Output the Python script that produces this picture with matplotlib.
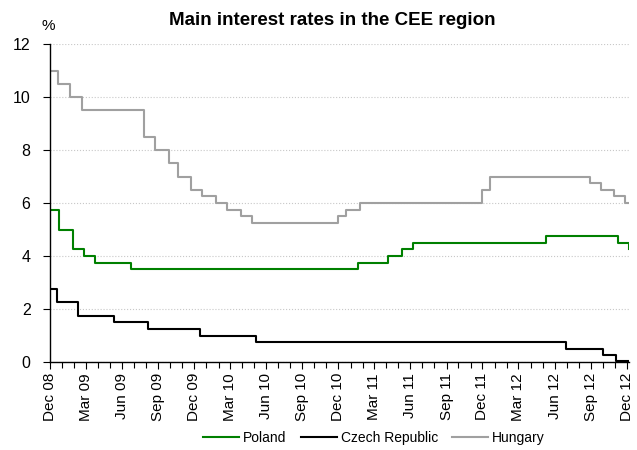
import matplotlib.pyplot as plt
import matplotlib.dates as mdates
import numpy as np
from datetime import datetime

plt.rcParams['font.family'] = ['Liberation Sans', 'DejaVu Sans']

# ***** DATA (rate change dates and new levels) *****
end_date = '2012-12-06'

poland_dates = ['2008-12-01', '2008-12-24', '2009-01-28', '2009-02-25', '2009-03-25',
                '2009-06-24', '2011-01-19', '2011-04-06', '2011-05-11', '2011-06-09',
                '2012-05-10', '2012-11-08', '2012-12-06']
poland_rates = [5.75, 5.0, 4.25, 4.0, 3.75, 3.5, 3.75, 4.0, 4.25, 4.5, 4.75, 4.5, 4.25]

czech_dates = ['2008-12-01', '2008-12-18', '2009-02-09', '2009-05-11', '2009-08-07',
               '2009-12-17', '2010-05-07', '2012-06-29', '2012-10-01', '2012-11-02']
czech_rates = [2.75, 2.25, 1.75, 1.5, 1.25, 1.0, 0.75, 0.5, 0.25, 0.05]

hungary_dates = ['2008-12-01', '2008-12-22', '2009-01-20', '2009-02-20', '2009-07-27',
                 '2009-08-25', '2009-09-29', '2009-10-20', '2009-11-24', '2009-12-22',
                 '2010-01-26', '2010-02-23', '2010-03-29', '2010-04-26', '2010-11-29',
                 '2010-12-20', '2011-01-24', '2011-11-29', '2011-12-20', '2012-08-28',
                 '2012-09-25', '2012-10-30', '2012-11-27']
hungary_rates = [11.0, 10.5, 10.0, 9.5, 8.5, 8.0, 7.5, 7.0, 6.5, 6.25, 6.0, 5.75, 5.5,
                 5.25, 5.5, 5.75, 6.0, 6.5, 7.0, 6.75, 6.5, 6.25, 6.0]


def to_series(dates, rates):
    # extend each series to the end date so the last level is drawn
    d = [datetime.strptime(x, '%Y-%m-%d') for x in dates]
    r = list(rates)
    last = datetime.strptime(end_date, '%Y-%m-%d')
    if d[-1] < last:
        d.append(last)
        r.append(r[-1])
    return d, r


# ***** GRAPHING *****
fig = plt.figure(figsize=(6.37, 4.5), dpi=100)
ax = fig.add_axes([50 / 637, 88 / 450, 579 / 637, 318 / 450])

d, r = to_series(poland_dates, poland_rates)
ax.step(d, r, where='post', color='#008000', linewidth=1.5, label='Poland')
d, r = to_series(czech_dates, czech_rates)
ax.step(d, r, where='post', color='black', linewidth=1.5, label='Czech Republic')
d, r = to_series(hungary_dates, hungary_rates)
ax.step(d, r, where='post', color='#a0a0a0', linewidth=1.5, label='Hungary')

ax.set_xlim(datetime(2008, 12, 1), datetime(2012, 12, 6))
ax.set_ylim(0, 12)
ax.set_yticks(np.arange(0, 13, 2))
ax.tick_params(axis='y', labelsize=11.5, length=5, width=0.8, pad=9)

ax.xaxis.set_major_locator(mdates.MonthLocator(bymonth=[3, 6, 9, 12]))
ax.xaxis.set_minor_locator(mdates.MonthLocator())
ax.xaxis.set_major_formatter(mdates.DateFormatter('%b %y'))
ax.tick_params(axis='x', which='major', labelsize=11, length=5, width=0.8,
               labelrotation=90, pad=3)
ax.tick_params(axis='x', which='minor', length=4, width=0.8)

ax.grid(axis='y', linestyle=':', color='#c8c8c8', linewidth=0.8)
ax.set_axisbelow(True)
for s in ['top', 'right']:
    ax.spines[s].set_visible(False)
for s in ['left', 'bottom']:
    ax.spines[s].set_linewidth(1.0)

fig.text(48 / 637, 1 - 26 / 450, '%', fontsize=11, ha='center', va='center')
fig.text(332 / 637, 1 - 25 / 450, 'Main interest rates in the CEE region',
         fontsize=13.5, fontweight='bold', ha='center', va='baseline')

fig.legend(loc='center', bbox_to_anchor=(374 / 637, 1 - 438 / 450), ncol=3,
           frameon=False, fontsize=10, handlelength=2.6, columnspacing=1.0,
           handletextpad=0.3)

fig.savefig('out.png', dpi=100)
